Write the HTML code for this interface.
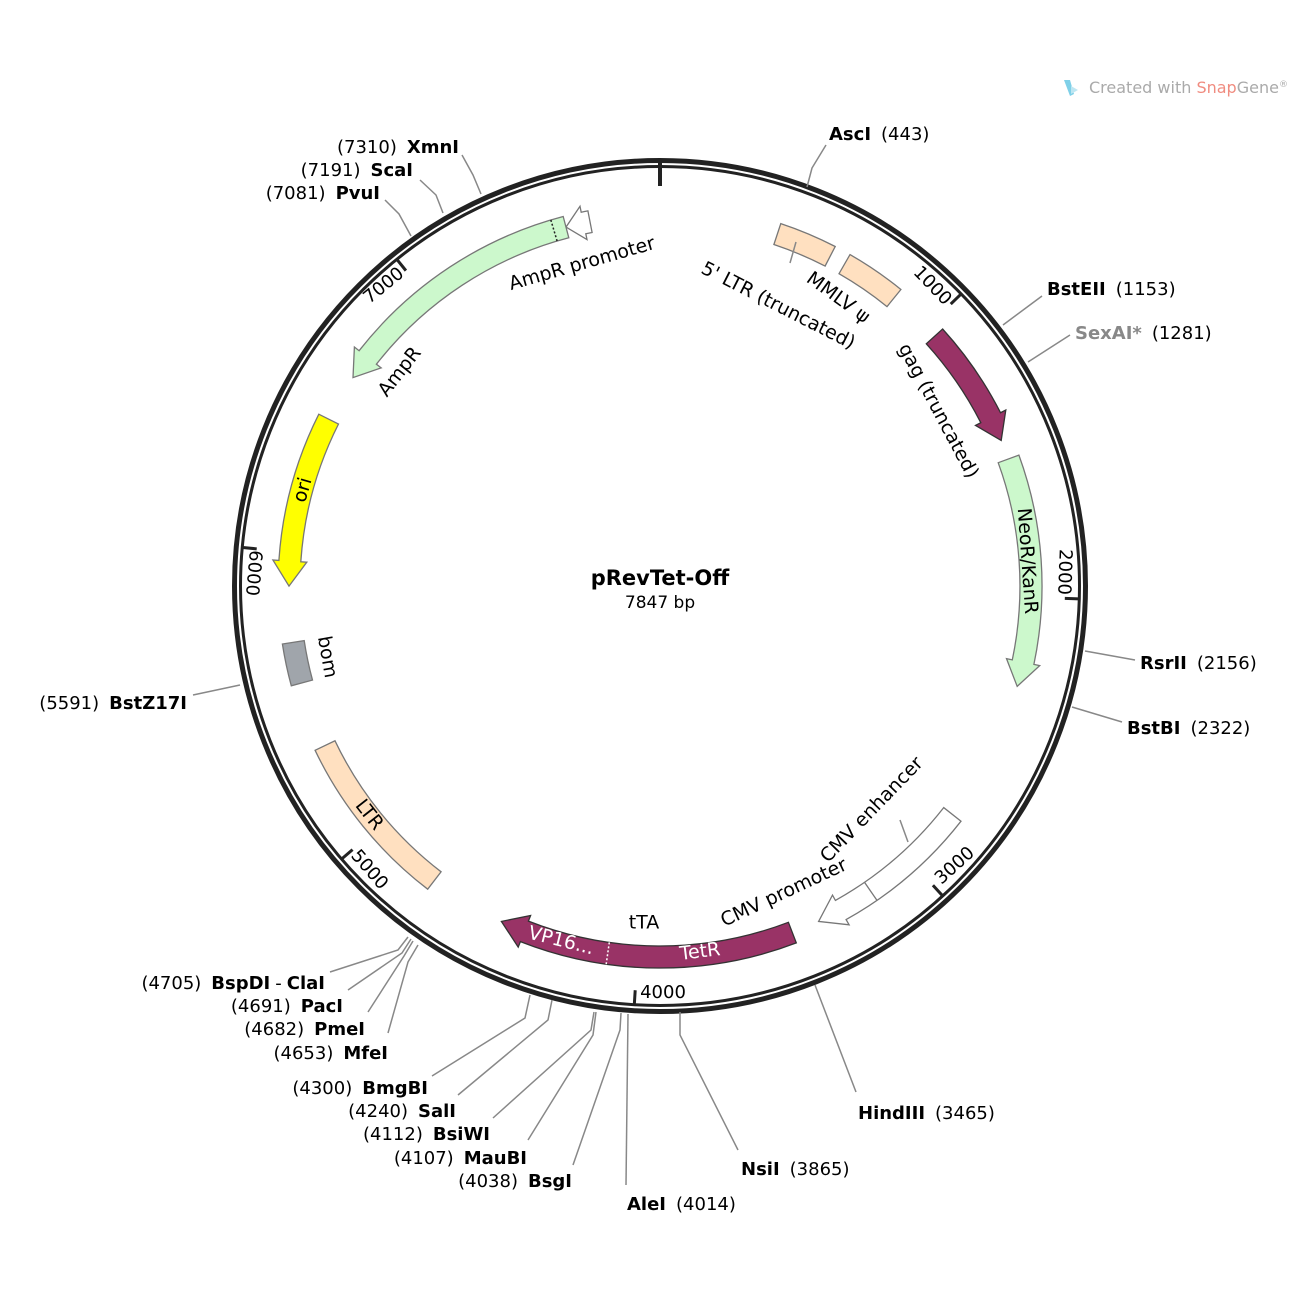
<!DOCTYPE html>
<html><head><meta charset="utf-8"><style>
html,body{margin:0;padding:0;background:#fff;}
svg{display:block;font-family:"DejaVu Sans","Liberation Sans",sans-serif;}
.e{font-size:18px;fill:#000}
.b{font-weight:bold}
.f{font-size:19px;fill:#000}
.ln{stroke:#888;stroke-width:1.5;fill:none}
</style></head><body>
<svg id="s" width="1300" height="1300" viewBox="0 0 1300 1300" xmlns="http://www.w3.org/2000/svg">
<rect width="1300" height="1300" fill="#fff"/>
<g id="feat"></g>
<circle cx="660" cy="586" r="425.5" fill="none" stroke="#222" stroke-width="5"/>
<circle cx="660" cy="586" r="419.5" fill="none" stroke="#222" stroke-width="3"/>
<g id="ticks"></g>
<g class="f" style="font-size:18px">
<text transform="translate(932,286) rotate(46)" text-anchor="middle" dominant-baseline="middle">1000</text>
<text transform="translate(1064,572) rotate(92)" text-anchor="middle" dominant-baseline="middle">2000</text>
<text transform="translate(955,866) rotate(-42)" text-anchor="middle" dominant-baseline="middle">3000</text>
<text transform="translate(663,993)" text-anchor="middle" dominant-baseline="middle">4000</text>
<text transform="translate(369,870) rotate(49)" text-anchor="middle" dominant-baseline="middle">5000</text>
<text transform="translate(253,573) rotate(95)" text-anchor="middle" dominant-baseline="middle">6000</text>
<text transform="translate(384,286) rotate(-39)" text-anchor="middle" dominant-baseline="middle">7000</text>
</g>
<g class="ln">
<polyline points="807,187 812,168 826,145"/>
<polyline points="1003,325 1042,296"/>
<polyline points="1028,362 1070,335"/>
<polyline points="1085,651 1135,660"/>
<polyline points="1072,707 1122,722"/>
<polyline points="815,985 856,1092"/>
<polyline points="680,1012 680,1035 738,1150"/>
<polyline points="628,1014 626,1185"/>
<polyline points="621,1013 620,1030 573,1165"/>
<polyline points="596,1012 593,1035 528,1140"/>
<polyline points="594,1012 591,1030 493,1118"/>
<polyline points="552,1000 548,1020 458,1095"/>
<polyline points="530,995 525,1018 432,1076"/>
<polyline points="418,945 408,962 388,1033"/>
<polyline points="413,941 404,956 368,1012"/>
<polyline points="411,939 402,953 348,990"/>
<polyline points="408,937 398,950 330,972"/>
<polyline points="240,685 193,695"/>
<polyline points="411,236 399,214 385,200"/>
<polyline points="443,213 436,195 420,180"/>
<polyline points="481,194 473,175 462,155"/>
<polyline points="790,263 796,242"/>
<polyline points="900,820 908,842"/>
</g>
<g class="e">
<text x="829" y="140"><tspan class="b">AscI</tspan><tspan dx="10">(443)</tspan></text>
<text x="1047" y="295"><tspan class="b">BstEII</tspan><tspan dx="10">(1153)</tspan></text>
<text x="1075" y="339"><tspan class="b" fill="#888">SexAI*</tspan><tspan dx="10">(1281)</tspan></text>
<text x="1140" y="669"><tspan class="b">RsrII</tspan><tspan dx="10">(2156)</tspan></text>
<text x="1127" y="734"><tspan class="b">BstBI</tspan><tspan dx="10">(2322)</tspan></text>
<text x="858" y="1119"><tspan class="b">HindIII</tspan><tspan dx="10">(3465)</tspan></text>
<text x="741" y="1175"><tspan class="b">NsiI</tspan><tspan dx="10">(3865)</tspan></text>
<text x="627" y="1210"><tspan class="b">AleI</tspan><tspan dx="10">(4014)</tspan></text>
<g text-anchor="end">
<text x="572" y="1187">(4038)<tspan dx="10" class="b">BsgI</tspan></text>
<text x="527" y="1164">(4107)<tspan dx="10" class="b">MauBI</tspan></text>
<text x="490" y="1140">(4112)<tspan dx="10" class="b">BsiWI</tspan></text>
<text x="456" y="1117">(4240)<tspan dx="10" class="b">SalI</tspan></text>
<text x="428" y="1094">(4300)<tspan dx="10" class="b">BmgBI</tspan></text>
<text x="388" y="1059">(4653)<tspan dx="10" class="b">MfeI</tspan></text>
<text x="365" y="1035">(4682)<tspan dx="10" class="b">PmeI</tspan></text>
<text x="343" y="1012">(4691)<tspan dx="10" class="b">PacI</tspan></text>
<text x="325" y="989">(4705)<tspan dx="10" class="b">BspDI</tspan><tspan dx="5">-</tspan><tspan dx="5" class="b">ClaI</tspan></text>
<text x="187" y="709">(5591)<tspan dx="10" class="b">BstZ17I</tspan></text>
<text x="380" y="199">(7081)<tspan dx="10" class="b">PvuI</tspan></text>
<text x="413" y="176">(7191)<tspan dx="10" class="b">ScaI</tspan></text>
<text x="459" y="153">(7310)<tspan dx="10" class="b">XmnI</tspan></text>
</g>
</g>
<g class="f" text-anchor="middle" dominant-baseline="middle">
<text transform="translate(582,264) rotate(-16)">AmpR promoter</text>
<text transform="translate(400,372) rotate(-52)">AmpR</text>
<text transform="translate(303,490) rotate(-74)">ori</text>
<text transform="translate(327,657) rotate(80)">bom</text>
<text transform="translate(369,815) rotate(52)">LTR</text>
<text transform="translate(778,306) rotate(27)">5' LTR (truncated)</text>
<text transform="translate(838,298) rotate(36)">MMLV ψ</text>
<text transform="translate(938,411) rotate(62)">gag (truncated)</text>
<text transform="translate(1027,561) rotate(86)">NeoR/KanR</text>
<text transform="translate(872,810) rotate(-46)">CMV enhancer</text>
<text transform="translate(784,893) rotate(-25)">CMV promoter</text>
<text transform="translate(644,923)">tTA</text>
<text transform="translate(700,952) rotate(-7)" fill="#fff">TetR</text>
<text transform="translate(561,941) rotate(14)" fill="#fff">VP16...</text>
</g>
<text x="660" y="585" text-anchor="middle" font-size="21" font-weight="bold">pRevTet-Off</text>
<text x="660" y="608" text-anchor="middle" font-size="17">7847 bp</text>
<g font-size="16">
<path d="M1064,80 l6,0 l4,14 l-4,2 z" fill="#7fd0e8"/>
<path d="M1071,86 l7,4 l-7,4 z" fill="#bde6f2"/>
<text x="1089" y="93" fill="#aaa">Created with <tspan fill="#f08c80">Snap</tspan>Gene<tspan font-size="9" dy="-6">®</tspan></text>
</g>
</svg>
<script>
var cx=660,cy=586,N=7847,NS="http://www.w3.org/2000/svg";
function P(r,bp){var a=bp/N*2*Math.PI;return [cx+r*Math.sin(a),cy-r*Math.cos(a)];}
function f(p){return p[0].toFixed(1)+","+p[1].toFixed(1);}
function arcTo(r,b1,b2){var d=b2-b1;var la=Math.abs(d)/N*360>180?1:0;var sw=d>0?1:0;return " A"+r+","+r+" 0 "+la+" "+sw+" "+f(P(r,b2));}
var R1=360,R2=382;
function shape(s,e,dir,fill,stroke,hl){
 var r1=R1,r2=R2;var rm=(r1+r2)/2,fl=6;var d;
 var h=(hl||25)/rm/(2*Math.PI)*N;
 if(dir==0){d="M"+f(P(r2,s))+arcTo(r2,s,e)+" L"+f(P(r1,e))+arcTo(r1,e,s)+"Z";}
 else if(dir==1){var m=e-h;d="M"+f(P(r2,s))+arcTo(r2,s,m)+" L"+f(P(r2+fl,m))+" L"+f(P(rm,e))+" L"+f(P(r1-fl,m))+" L"+f(P(r1,m))+arcTo(r1,m,s)+"Z";}
 else {var m=s+h;d="M"+f(P(r2,e))+arcTo(r2,e,m)+" L"+f(P(r2+fl,m))+" L"+f(P(rm,s))+" L"+f(P(r1-fl,m))+" L"+f(P(r1,m))+arcTo(r1,m,e)+"Z";}
 var p=document.createElementNS(NS,"path");p.setAttribute("d",d);p.setAttribute("fill",fill);p.setAttribute("stroke",stroke);p.setAttribute("stroke-width","1.3");
 document.getElementById("feat").appendChild(p);
}
function line(r1,r2,bp,sw,col,dash,g){var l=document.createElementNS(NS,"line");var a=P(r1,bp),b=P(r2,bp);
 l.setAttribute("x1",a[0]);l.setAttribute("y1",a[1]);l.setAttribute("x2",b[0]);l.setAttribute("y2",b[1]);
 l.setAttribute("stroke",col);l.setAttribute("stroke-width",sw);if(dash)l.setAttribute("stroke-dasharray",dash);
 document.getElementById(g).appendChild(l);}
var pe="#ffe0c0",gr="#ccf8cc",pu="#993366",gs="#777";
shape(7527,7610,-1,"#fff",gs,18);
shape(6630,7527,-1,gr,gs);
shape(5885,6468,-1,"#ffff00",gs);
shape(5555,5695,0,"#a0a5ab",gs);
shape(4740,5330,0,pe,gs);
shape(3468,4475,1,pu,"#333");
shape(2790,3372,1,"#fff",gs);
shape(1525,2304,1,gr,gs);
shape(1040,1458,1,pu,"#333");
shape(650,852,0,pe,gs);
shape(402,595,0,pe,gs);
line(R1,R2,7485,1.5,"#222","2,2","feat");
line(R1,R2,4100,1.5,"#fff","2,2","feat");
line(R1,R2,3169,1.3,gs,null,"feat");
[1000,2000,3000,4000,5000,6000,7000].forEach(function(b){line(405,419,b,3,"#222",null,"ticks");});
line(400,424,0,4,"#222",null,"ticks");
</script>
</body></html>
